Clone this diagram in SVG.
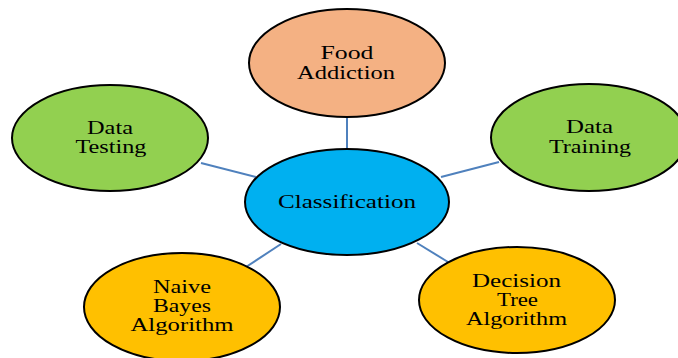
<svg xmlns="http://www.w3.org/2000/svg" width="678" height="358" viewBox="0 0 678 358">
<style>
.n{stroke:#000;stroke-width:2}
.t{font-family:"Liberation Serif","Times New Roman",serif;font-size:19px;fill:#000;text-anchor:middle}
.c{stroke:#4F81BD;stroke-width:2;fill:none}
</style>
<rect width="678" height="358" fill="#fff"/>
<g id="connectors">
<line class="c" x1="347" y1="117" x2="347" y2="149"/>
<line class="c" x1="201" y1="163" x2="256" y2="177"/>
<line class="c" x1="499" y1="162" x2="441" y2="177"/>
<line class="c" x1="281" y1="244" x2="246" y2="267"/>
<line class="c" x1="417" y1="243" x2="448" y2="262"/>
</g>
<g id="food">
<ellipse class="n" cx="347" cy="63" rx="98" ry="54" fill="#F4B183"/>
<text class="t" x="347" y="59" textLength="53" lengthAdjust="spacingAndGlyphs">Food</text>
<text class="t" x="346" y="79" textLength="98" lengthAdjust="spacingAndGlyphs">Addiction</text>
</g>
<g id="testing">
<ellipse class="n" cx="110" cy="138" rx="98" ry="53" fill="#92D050"/>
<text class="t" x="110" y="134" textLength="46" lengthAdjust="spacingAndGlyphs">Data</text>
<text class="t" x="111" y="153" textLength="71" lengthAdjust="spacingAndGlyphs">Testing</text>
</g>
<g id="training">
<ellipse class="n" cx="589" cy="137.5" rx="98" ry="53.5" fill="#92D050"/>
<text class="t" x="589.5" y="133" textLength="47" lengthAdjust="spacingAndGlyphs">Data</text>
<text class="t" x="590" y="153" textLength="82" lengthAdjust="spacingAndGlyphs">Training</text>
</g>
<g id="classification">
<ellipse class="n" cx="347" cy="202" rx="102" ry="53" fill="#00B0F0"/>
<text class="t" x="347" y="208" textLength="138" lengthAdjust="spacingAndGlyphs">Classification</text>
</g>
<g id="naive">
<ellipse class="n" cx="182" cy="307" rx="98" ry="54" fill="#FFC000"/>
<text class="t" x="182" y="293" textLength="58" lengthAdjust="spacingAndGlyphs">Naive</text>
<text class="t" x="182" y="312" textLength="58" lengthAdjust="spacingAndGlyphs">Bayes</text>
<text class="t" x="182" y="331" textLength="103" lengthAdjust="spacingAndGlyphs">Algorithm</text>
</g>
<g id="decision">
<ellipse class="n" cx="517" cy="300" rx="98" ry="53" fill="#FFC000"/>
<text class="t" x="516.5" y="287" textLength="89" lengthAdjust="spacingAndGlyphs">Decision</text>
<text class="t" x="517.5" y="306" textLength="41" lengthAdjust="spacingAndGlyphs">Tree</text>
<text class="t" x="516.5" y="325" textLength="101" lengthAdjust="spacingAndGlyphs">Algorithm</text>
</g>
</svg>
